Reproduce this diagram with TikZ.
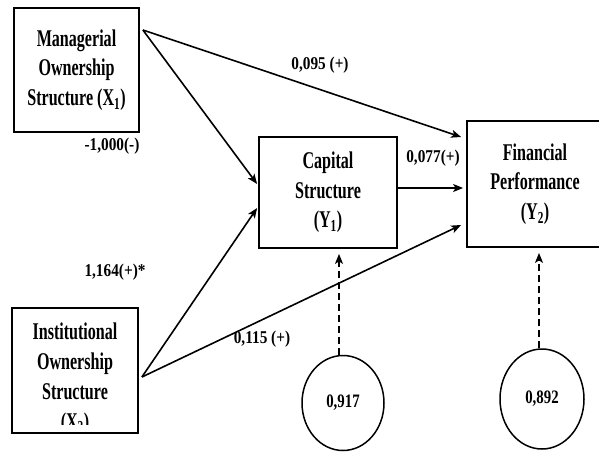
\documentclass[tikz,border=0pt]{standalone}
\usepackage{fontspec}
\setmainfont{Liberation Serif}
\newfontfamily\boxfont[FakeStretch=0.67]{Liberation Serif}
\newfontfamily\labfont[FakeStretch=0.85]{Liberation Serif}
\newfontfamily\errfont[FakeStretch=0.78]{Liberation Serif}
\usetikzlibrary{arrows.meta,shapes.geometric}
\begin{document}
\begin{tikzpicture}[x=1pt,y=-1pt,
  varbox/.style={draw,line width=1.8pt,rectangle,inner sep=0pt,align=center,
    font=\boxfont\bfseries\fontsize{24}{29.5}\selectfont},
  lab/.style={font=\labfont\bfseries\fontsize{18}{20}\selectfont,inner sep=0pt},
  errc/.style={draw,line width=1.5pt,ellipse,inner sep=0pt,
    font=\errfont\bfseries\fontsize{19}{20}\selectfont},
  path/.style={line width=1.6pt,-{Stealth[length=10pt,width=8pt,inset=2.5pt]}},
  errarrow/.style={line width=1.3pt,dashed,dash pattern=on 7pt off 4pt,-{Stealth[length=10pt,width=8pt,inset=2.5pt]}}]
\useasboundingbox (0,0) rectangle (599,453);
\fill[white] (0,0) rectangle (599,453);
% boxes
\node[varbox,minimum width=125pt,minimum height=124pt] (m) at (76.5,70)
  {Managerial\\Ownership\\Structure (X\textsubscript{1})};
\node[varbox,minimum width=126pt,minimum height=125pt] (i) at (75,370.5) {};
\begin{scope}
  \clip (10,306) rectangle (140,424);
  \node[align=center,inner sep=0pt,anchor=base,
    font=\boxfont\bfseries\fontsize{24}{30}\selectfont] (it) at (75,429)
    {Institutional\\Ownership\\Structure\\(X\textsubscript{2})};
\end{scope}
\node[varbox,minimum width=138pt,minimum height=111pt] (c) at (328,192.5)
  {Capital\\Structure\\(Y\textsubscript{1})};
\node[varbox,minimum width=136pt,minimum height=126pt] (f) at (535,184)
  {Financial\\Performance\\(Y\textsubscript{2})};
% error terms
\node[errc,minimum width=82pt,minimum height=95pt] (e1) at (343,403) {0,917};
\node[errc,minimum width=84pt,minimum height=100pt] (e2) at (542,399) {0,892};
% paths
\coordinate (mo) at ([xshift=3pt,yshift=40pt]m.east);
\coordinate (io) at ([xshift=3pt,yshift=-6.5pt]i.east);
\draw[path] (mo) -- ([xshift=-1pt,yshift=8.5pt]c.west);
\draw[path] (mo) -- ([xshift=-5pt,yshift=47pt]f.west);
\draw[path] (io) -- ([xshift=-1pt,yshift=-15.5pt]c.west);
\draw[path] (io) -- ([xshift=-5pt,yshift=-41pt]f.west);
\draw[path] ([yshift=4.5pt]c.east) -- ([xshift=-3pt,yshift=-4pt]f.west);
\draw[errarrow] ([xshift=-4pt]e1.north) -- ([xshift=11pt,yshift=-5pt]c.south);
\draw[errarrow] ([xshift=-3pt]e2.north) -- ([xshift=4pt,yshift=-5pt]f.south);
% labels
\node[lab] (l1) at (320,65) {0,095 (+)};
\node[lab] (l2) at (112,146) {-1,000(-)};
\node[lab] (l3) at (433,158) {0,077(+)};
\node[lab] (l4) at (115,272) {1,164(+)*};
\node[lab] (l5) at (262,339) {0,115 (+)};
\end{tikzpicture}
\end{document}
